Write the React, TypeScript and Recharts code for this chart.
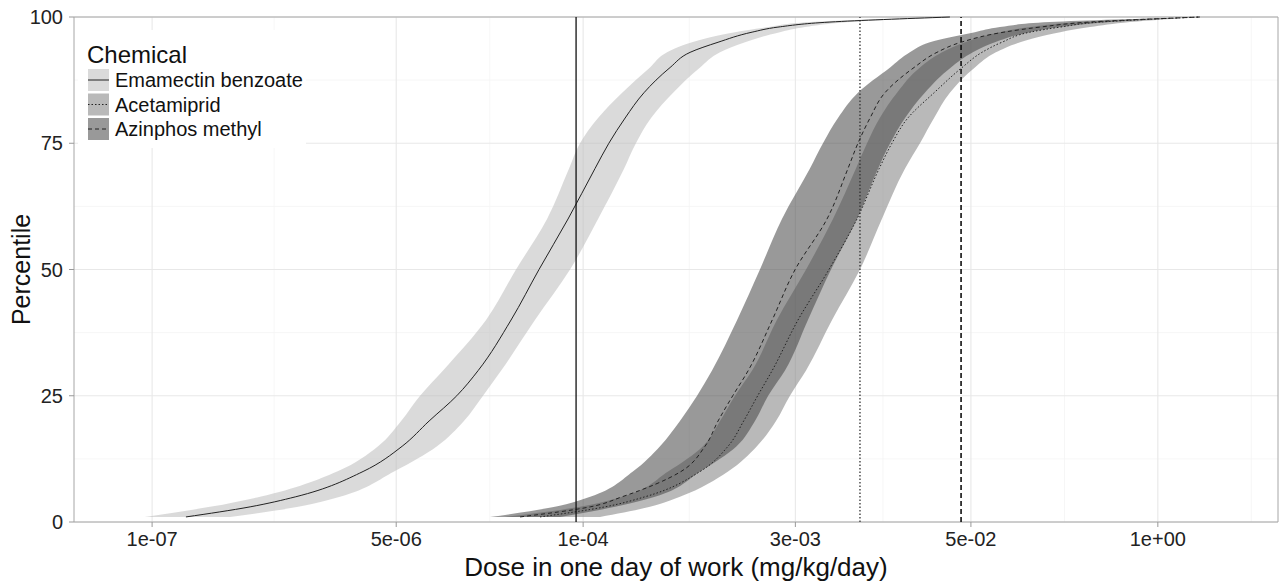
import React from 'react';
import {
  ComposedChart,
  Area,
  Line,
  XAxis,
  YAxis,
  CartesianGrid,
  ReferenceLine,
  ReferenceArea,
} from 'recharts';

// percentile levels (y) and the dose quantiles read at each level (mg/kg/day)
const percentiles = [1, 3, 5, 10, 15, 20, 25, 30, 40, 50, 60, 70, 75, 80, 85, 90, 93, 95, 97, 98, 99, 100];

const emamectinMedian = [1.72e-7, 4.81e-7, 1.0e-6, 2.94e-6, 5.5e-6, 8.47e-6, 1.32e-5, 1.86e-5, 3.15e-5, 4.93e-5, 7.85e-5, 1.21e-4, 1.51e-4, 1.96e-4, 2.65e-4, 4.03e-4, 5.55e-4, 8.69e-4, 1.5e-3, 2.27e-3, 5.22e-3, 3.57e-2];
const emamectinLow = [8.9e-8, 2.53e-7, 5.64e-7, 1.94e-6, 3.74e-6, 5.41e-6, 7.33e-6, 1.06e-5, 2.11e-5, 3.41e-5, 5.61e-5, 7.98e-5, 9.51e-5, 1.27e-4, 1.87e-4, 2.92e-4, 3.84e-4, 5.73e-4, 1.14e-3, 1.94e-3, 3.79e-3, 3.57e-2];
const emamectinHigh = [3.49e-7, 1.04e-6, 2.03e-6, 4.83e-6, 9.62e-6, 1.48e-5, 2.01e-5, 2.69e-5, 4.62e-5, 8.11e-5, 1.27e-4, 1.93e-4, 2.33e-4, 2.97e-4, 4.23e-4, 6.52e-4, 8.97e-4, 1.34e-3, 2.34e-3, 3.5e-3, 7.19e-3, 3.57e-2];

const acetamipridMedian = [5.01e-5, 1.42e-4, 2.7e-4, 6.52e-4, 1.02e-3, 1.31e-3, 1.64e-3, 2.07e-3, 3.13e-3, 5.14e-3, 8.05e-3, 1.15e-2, 1.41e-2, 1.82e-2, 2.77e-2, 4.34e-2, 5.97e-2, 8.22e-2, 0.129, 0.209, 0.395, 1.96];
const acetamipridLow = [2.86e-5, 9.51e-5, 1.87e-4, 3.9e-4, 6.82e-4, 8.97e-4, 1.14e-3, 1.5e-3, 2.23e-3, 3.56e-3, 5.48e-3, 7.92e-3, 9.46e-3, 1.16e-2, 1.53e-2, 2.21e-2, 3.15e-2, 4.55e-2, 7.96e-2, 0.129, 0.287, 1.96];
const acetamipridHigh = [1.31e-4, 2.92e-4, 4.72e-4, 1.02e-3, 1.62e-3, 2.2e-3, 2.75e-3, 3.56e-3, 5.4e-3, 8.45e-3, 1.2e-2, 1.74e-2, 2.21e-2, 2.77e-2, 3.57e-2, 5.33e-2, 7.46e-2, 0.11, 0.209, 0.337, 0.64, 1.96];

const azinphosMedian = [3.64e-5, 1.12e-4, 1.87e-4, 4.8e-4, 7.05e-4, 8.69e-4, 1.1e-3, 1.41e-3, 2.07e-3, 2.99e-3, 4.98e-3, 6.97e-3, 8.18e-3, 9.93e-3, 1.26e-2, 2.01e-2, 2.9e-2, 4.27e-2, 8.49e-2, 0.151, 0.337, 1.96];
const azinphosLow = [2.25e-5, 6.37e-5, 1.12e-4, 2.22e-4, 3.43e-4, 4.72e-4, 6.21e-4, 7.89e-4, 1.18e-3, 1.7e-3, 2.42e-3, 3.79e-3, 4.67e-3, 5.94e-3, 8.18e-3, 1.37e-2, 1.88e-2, 2.59e-2, 5.33e-2, 7.96e-2, 0.177, 1.96];
const azinphosHigh = [6.9e-5, 1.67e-4, 3.16e-4, 6.52e-4, 1.17e-3, 1.57e-3, 1.94e-3, 2.54e-3, 3.67e-3, 5.31e-3, 8.05e-3, 1.13e-2, 1.37e-2, 1.74e-2, 2.39e-2, 3.63e-2, 5.16e-2, 7.35e-2, 0.129, 0.209, 0.464, 1.96];

// vertical reference doses, one per chemical
const referenceDoses = [8.93e-5, 8.45e-3, 4.27e-2];

const chemicals = ['Emamectin benzoate', 'Acetamiprid', 'Azinphos methyl'];

const doseTicks = [1e-7, 5e-6, 1e-4, 3e-3, 5e-2, 1];
const doseTickLabels = ['1e-07', '5e-06', '1e-04', '3e-03', '5e-02', '1e+00'];
const doseMinorGrid = [7.07e-7, 2.24e-5, 5.48e-4, 1.22e-2, 0.224, 4.47];
const doseDomain = [2.86e-8, 6.86];

const percentTicks = [0, 25, 50, 75, 100];
const percentMinorGrid = [12.5, 37.5, 62.5, 87.5];

const FONT = '"Liberation Sans", Arial, sans-serif';
const bandFills = ['#bcbcbc', '#808080', '#464646'];
const bandOpacity = 0.55;
const lineDashes = ['0', '1.5 2', '4 3'];

const rows = percentiles.map((p, i) => ({
  p,
  emaBand: [emamectinLow[i], emamectinHigh[i]],
  emaMed: emamectinMedian[i],
  aceBand: [acetamipridLow[i], acetamipridHigh[i]],
  aceMed: acetamipridMedian[i],
  aziBand: [azinphosLow[i], azinphosHigh[i]],
  aziMed: azinphosMedian[i],
}));

const formatDose = (v: number) => {
  const i = doseTicks.indexOf(v);
  return i >= 0 ? doseTickLabels[i] : String(v);
};

const renderPercentileTitle = (props: any) => {
  const vb = props.viewBox || { x: 0, y: 17, width: 74, height: 505 };
  const cx = vb.x + 21;
  const cy = vb.y + vb.height / 2;
  return (
    <text
      x={cx}
      y={cy}
      transform={`rotate(-90 ${cx} ${cy})`}
      textAnchor="middle"
      dominantBaseline="central"
      fontSize={25}
      fontFamily={FONT}
      fill="#111"
    >
      Percentile
    </text>
  );
};

function ChemicalLegend() {
  return (
    <div
      style={{
        position: 'absolute',
        left: 78,
        top: 30,
        width: 228,
        height: 118,
        background: '#fff',
      }}
    >
      <svg width={228} height={118} style={{ fontFamily: FONT }}>
        <text x={9} y={33} fontSize={24} fill="#111">
          Chemical
        </text>
        {chemicals.map((name, i) => {
          const top = 38 + i * 24.5;
          return (
            <g key={name}>
              <rect x={9} y={top} width={23} height={24} fill="#fff" />
              <rect
                x={9.5}
                y={top + 0.5}
                width={22}
                height={23}
                fill={bandFills[i]}
                fillOpacity={bandOpacity}
                stroke="#fff"
                strokeWidth={1}
              />
              <line
                x1={10}
                x2={31}
                y1={top + 12}
                y2={top + 12}
                stroke="#222"
                strokeWidth={1}
                strokeDasharray={lineDashes[i]}
              />
              <text x={37} y={top + 12} dominantBaseline="central" fontSize={20} fill="#111">
                {name}
              </text>
            </g>
          );
        })}
      </svg>
    </div>
  );
}

export default function App() {
  return (
    <div style={{ position: 'absolute', left: 0, top: 0, width: 1286, height: 585, background: '#fff', fontFamily: FONT }}>
      <ComposedChart
        layout="vertical"
        width={1286}
        height={585}
        data={rows}
        margin={{ top: 17, right: 8, bottom: 0, left: 0 }}
      >
        <CartesianGrid
          stroke="#f4f4f4"
          strokeWidth={0.8}
          verticalValues={doseMinorGrid}
          horizontalValues={percentMinorGrid}
        />
        <CartesianGrid
          stroke="#e8e8e8"
          strokeWidth={1.1}
          verticalValues={doseTicks}
          horizontalValues={percentTicks}
        />
        <XAxis
          type="number"
          dataKey="emaMed"
          scale="log"
          domain={doseDomain}
          allowDataOverflow
          ticks={doseTicks}
          tickFormatter={formatDose}
          height={63}
          axisLine={false}
          tickSize={5}
          tickMargin={5}
          tickLine={{ stroke: '#999' }}
          tick={{ fill: '#222', fontSize: 20, fontFamily: FONT }}
          label={{
            value: 'Dose in one day of work (mg/kg/day)',
            position: 'insideBottom',
            offset: 9,
            fontSize: 26,
            fill: '#111',
            fontFamily: FONT,
          }}
        />
        <YAxis
          type="number"
          dataKey="p"
          domain={[0, 100]}
          reversed
          ticks={percentTicks}
          width={74}
          axisLine={false}
          tickSize={5}
          tickMargin={6}
          tickLine={{ stroke: '#999' }}
          tick={{ fill: '#222', fontSize: 20, fontFamily: FONT }}
          label={renderPercentileTitle}
        />
        <Area
          dataKey="emaBand"
          type="monotone"
          fill={bandFills[0]}
          fillOpacity={bandOpacity}
          stroke="none"
          isAnimationActive={false}
        />
        <Area
          dataKey="aceBand"
          type="monotone"
          fill={bandFills[1]}
          fillOpacity={bandOpacity}
          stroke="none"
          isAnimationActive={false}
        />
        <Area
          dataKey="aziBand"
          type="monotone"
          fill={bandFills[2]}
          fillOpacity={bandOpacity}
          stroke="none"
          isAnimationActive={false}
        />
        <Line dataKey="emaMed" type="monotone" stroke="#222" strokeWidth={1} dot={false} isAnimationActive={false} />
        <Line
          dataKey="aceMed"
          type="monotone"
          stroke="#222"
          strokeWidth={1}
          strokeDasharray={lineDashes[1]}
          dot={false}
          isAnimationActive={false}
        />
        <Line
          dataKey="aziMed"
          type="monotone"
          stroke="#222"
          strokeWidth={1}
          strokeDasharray={lineDashes[2]}
          dot={false}
          isAnimationActive={false}
        />
        <ReferenceLine x={referenceDoses[0]} stroke="#111" strokeWidth={1.3} />
        <ReferenceLine x={referenceDoses[1]} stroke="#333" strokeWidth={1.3} strokeDasharray="1.5 2" />
        <ReferenceLine x={referenceDoses[2]} stroke="#111" strokeWidth={1.6} strokeDasharray="5 3" />
        <ReferenceArea
          x1={doseDomain[0]}
          x2={doseDomain[1]}
          y1={0}
          y2={100}
          fill="none"
          stroke="#a6a6a6"
          strokeWidth={1}
          ifOverflow="visible"
        />
      </ComposedChart>
      <ChemicalLegend />
    </div>
  );
}
